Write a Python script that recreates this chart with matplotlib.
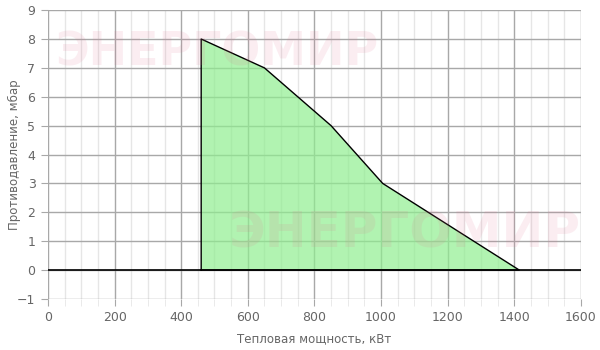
import matplotlib
matplotlib.use('Agg')
import matplotlib.pyplot as plt
from matplotlib.ticker import MultipleLocator

# рабочая область горелки
power = [460, 460, 650, 850, 1005, 1415]
pressure = [0, 8, 7, 5, 3, 0]

fig = plt.figure(figsize=(6, 3.5), dpi=100)
ax = fig.add_axes([0.08, 0.146, 0.888, 0.825])

ax.set_xlim(0, 1600)
ax.set_ylim(-1, 9)
ax.xaxis.set_major_locator(MultipleLocator(200))
ax.xaxis.set_minor_locator(MultipleLocator(50))
ax.yaxis.set_major_locator(MultipleLocator(1))

ax.grid(which='major', color='#a8a8a8', lw=1)
ax.grid(which='minor', axis='x', color='#e6e6e6', lw=1)
ax.set_axisbelow(True)
for s in ax.spines.values():
    s.set_visible(False)
ax.tick_params(which='major', length=5, color='#a8a8a8', labelcolor='#666666',
               labelsize=9, pad=4)
ax.tick_params(which='minor', axis='x', length=5, color='#e6e6e6')

# водяной знак
ax.text(217, 297, 'ЭНЕРГОМИР', transform=None, fontsize=33, fontweight='bold',
        color='#e07090', alpha=0.12, ha='center', va='center')
ax.text(405, 117, 'ЭНЕРГОМИР', transform=None, fontsize=36, fontweight='bold',
        color='#e07090', alpha=0.12, ha='center', va='center')

ax.axhline(0, color='black', lw=1.2)
ax.fill(power, pressure, facecolor='#90ee90', alpha=0.7, edgecolor='none')
ax.plot(power + [power[0]], pressure + [pressure[0]], color='black', lw=1)

ax.set_xlabel('Тепловая мощность, кВт', color='#666666', fontsize=8.5, labelpad=6)
ax.set_ylabel('Противодавление, мбар', color='#666666', fontsize=8.5)
ax.yaxis.set_label_coords(-0.051, 0.5)

fig.savefig('out.png')
